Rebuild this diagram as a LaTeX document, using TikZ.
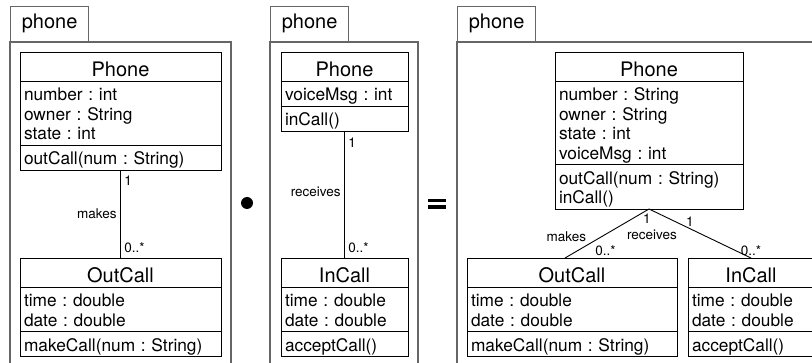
\documentclass[tikz,border=0pt]{standalone}
\usepackage{fontspec}
\setmainfont{TeX Gyre Heros}
\usetikzlibrary{positioning,calc}
\frenchspacing

\newcommand{\upstr}{\rule{0pt}{20pt}}
\newcommand{\dnstr}{\rule[-5pt]{0pt}{5pt}}

\tikzset{
  frame/.style={draw=black!60, line width=1.3pt},
  tab/.style={frame, anchor=south west, minimum width=78pt, minimum height=35pt, inner sep=0pt, font=\fontsize{20}{24}\selectfont},
  cname/.style={draw, line width=0.9pt, outer sep=0pt, inner xsep=4pt, inner ysep=0pt, text width=#1, align=center, minimum height=29pt, text height=21pt, text depth=0pt, font=\fontsize{20}{24}\selectfont},
  cpart/.style={draw, line width=0.9pt, outer sep=0pt, inner xsep=4pt, inner ysep=0pt, text width=#1, align=left, font=\fontsize{17.3}{19.5}\selectfont},
  assoc/.style={draw, line width=0.9pt},
  lbl/.style={font=\fontsize{13.5}{16}\selectfont}
}

\begin{document}
\begin{tikzpicture}[x=1pt,y=-1pt]
  \useasboundingbox (0,0) rectangle (812,363);
  \clip (0,0) rectangle (812,363);

  % the three packages
  \node[tab] (tab1) at (10,42) {phone};
  \draw[frame] (tab1.south west) rectangle (231,420);
  \node[tab] (tab2) at (270,42) {phone};
  \draw[frame] (tab2.south west) rectangle (418,420);
  \node[tab] (tab3) at (457,42) {phone};
  \draw[frame] (tab3.south west) rectangle (840,420);

  % first package
  \node[cname=193pt, anchor=north west] (ph1n) at (20,52) {Phone};
  \node[cpart=193pt, below=0pt of ph1n] (ph1a) {\upstr number : int\\ owner : String\\ state : int\dnstr};
  \node[cpart=193pt, below=0pt of ph1a] (ph1o) {\upstr outCall(num : String)\dnstr};

  \node[cname=193pt, anchor=north west] (oc1n) at (20,258) {OutCall};
  \node[cpart=193pt, below=0pt of oc1n] (oc1a) {\upstr time : double\\ date : double\dnstr};
  \node[cpart=193pt, below=0pt of oc1a] (oc1o) {\upstr makeCall(num : String)\dnstr};

  \draw[assoc] (ph1o.south) -- node[lbl, pos=0.125, right] (m1a) {1}
    node[lbl, left] (m1b) {makes}
    node[lbl, pos=0.886, right] (m1c) {0..*} (oc1n.north);

  % second package
  \node[cname=119pt, anchor=north west] (ph2n) at (281,52) {Phone};
  \node[cpart=119pt, below=0pt of ph2n] (ph2a) {\upstr voiceMsg : int\dnstr};
  \node[cpart=119pt, below=0pt of ph2a] (ph2o) {\upstr inCall()\dnstr};

  \node[cname=119pt, anchor=north west] (ic2n) at (281,258) {InCall};
  \node[cpart=119pt, below=0pt of ic2n] (ic2a) {\upstr time : double\\ date : double\dnstr};
  \node[cpart=119pt, below=0pt of ic2a] (ic2o) {\upstr acceptCall()\dnstr};

  \draw[assoc] (ph2o.south) -- node[lbl, pos=0.094, right] (r2a) {1}
    node[lbl, pos=0.48, left] (r2b) {receives}
    node[lbl, pos=0.92, right] (r2c) {0..*} (ic2n.north);

  % composition operators
  \fill (247,203) circle (6pt);
  \fill (428,199) rectangle (446,202.5);
  \fill (428,205.5) rectangle (446,209);

  % merged package
  \node[cname=180pt, anchor=north west] (ph3n) at (555,52) {Phone};
  \node[cpart=180pt, below=0pt of ph3n] (ph3a) {\upstr number : String\\ owner : String\\ state : int\\ voiceMsg : int\dnstr};
  \node[cpart=180pt, below=0pt of ph3a] (ph3o) {\upstr outCall(num : String)\\ inCall()\dnstr};

  \node[cname=202pt, anchor=north west] (oc3n) at (467,258) {OutCall};
  \node[cpart=202pt, below=0pt of oc3n] (oc3a) {\upstr time : double\\ date : double\dnstr};
  \node[cpart=202pt, below=0pt of oc3a] (oc3o) {\upstr makeCall(num : String)\dnstr};

  \node[cname=118pt, anchor=north west] (ic3n) at (688,258) {InCall};
  \node[cpart=118pt, below=0pt of ic3n] (ic3a) {\upstr time : double\\ date : double\dnstr};
  \node[cpart=118pt, below=0pt of ic3a] (ic3o) {\upstr acceptCall()\dnstr};

  \draw[assoc] (ph3o.south) -- node[lbl, pos=0.05, anchor=north, xshift=2pt, inner sep=2pt] (m3a) {1}
    node[lbl, pos=0.72, anchor=south east, inner sep=2pt] (m3b) {makes}
    node[lbl, pos=1, anchor=south west, xshift=28pt, inner sep=2pt] (m3c) {0..*}
    ($(oc3n.north)+(-7,0)$);
  \draw[assoc] (ph3o.south) -- node[lbl, pos=0.4, anchor=south, inner sep=2pt] (r3a) {1}
    node[lbl, pos=0, anchor=north, yshift=-19pt, xshift=3pt, inner sep=2pt] (r3b) {receives}
    node[lbl, pos=1, anchor=south, inner sep=2pt] (r3c) {0..*} (ic3n.north);
\end{tikzpicture}
\end{document}
